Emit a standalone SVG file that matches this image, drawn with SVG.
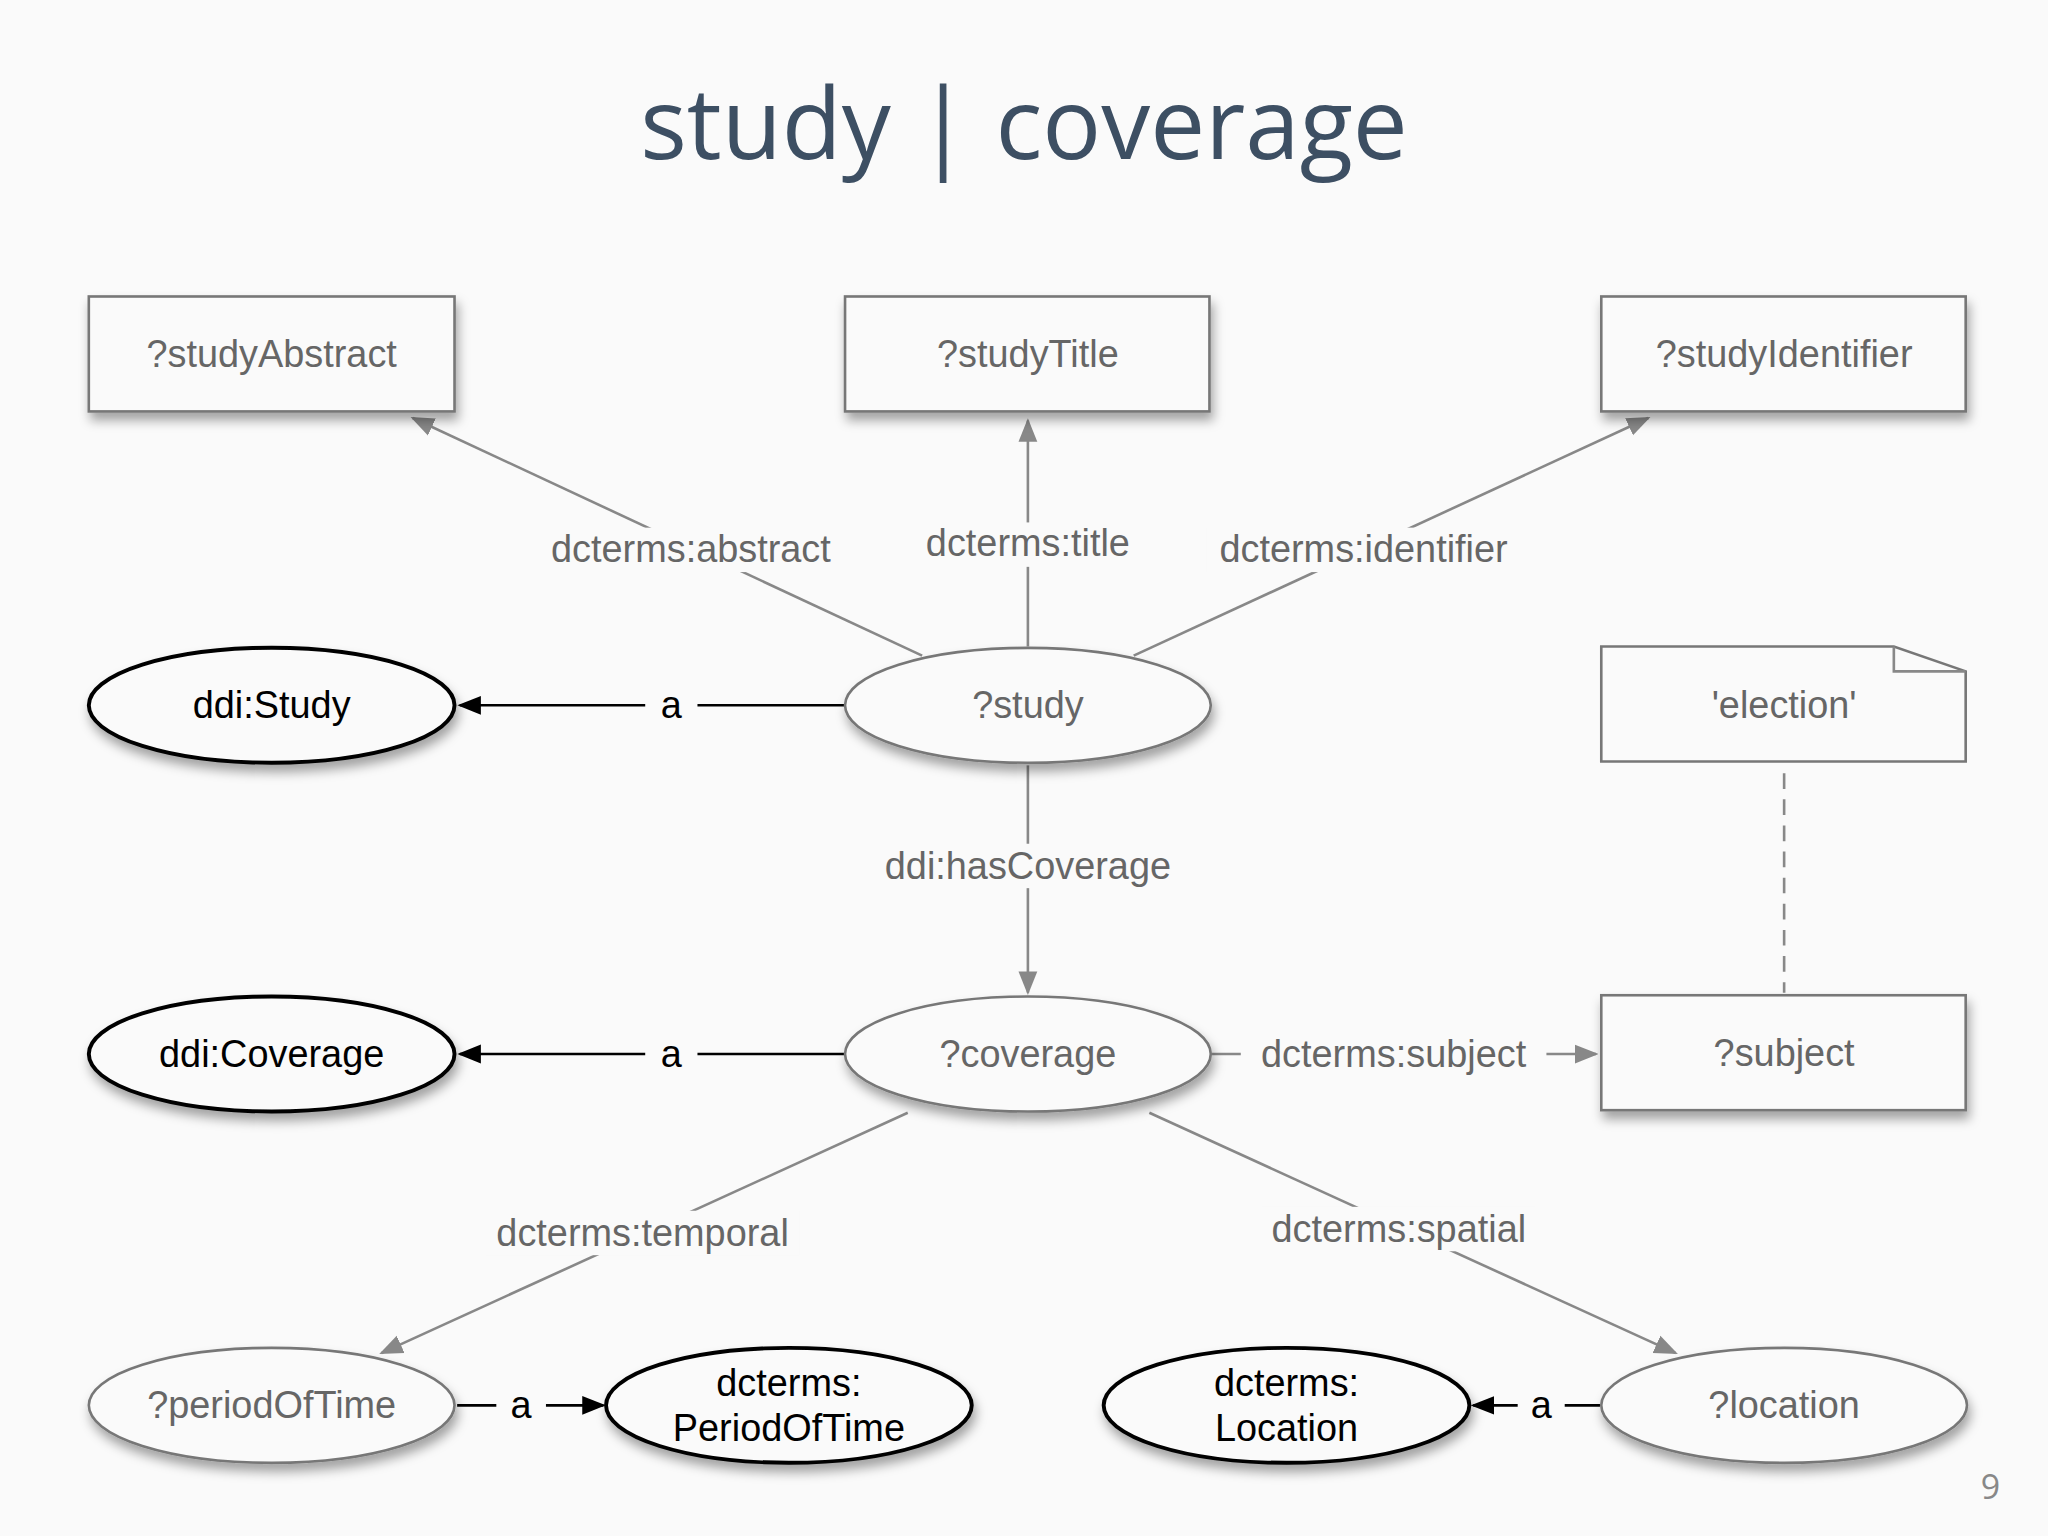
<svg xmlns="http://www.w3.org/2000/svg" width="2048" height="1536" viewBox="0 0 2048 1536">
<defs>
<style>
.t{font-family:"Liberation Sans",Arial,sans-serif;font-size:29px;text-anchor:middle;dominant-baseline:central}
.g{fill:#666}.k{fill:#000}
.gn{fill:#fafafa;stroke:#777;stroke-width:2}
.kn{fill:#fafafa;stroke:#000;stroke-width:3}
.ge{stroke:#888;stroke-width:2;fill:none}
.ke{stroke:#000;stroke-width:2;fill:none}
.lb{fill:#fafafa}
</style>
<marker id="ag" viewBox="0 0 10 10" refX="9" refY="5" markerWidth="9" markerHeight="9" orient="auto"><path d="M0,1 L10,5 L0,9 z" fill="#888"/></marker>
<marker id="ak" viewBox="0 0 10 10" refX="9" refY="5" markerWidth="9" markerHeight="9" orient="auto"><path d="M0,1 L10,5 L0,9 z" fill="#000"/></marker>
<filter id="sh" x="-10%" y="-10%" width="130%" height="150%"><feDropShadow dx="2" dy="6" stdDeviation="4" flood-color="#000" flood-opacity="0.35"/></filter>
</defs>
<rect width="2048" height="1536" fill="#fafafa"/>
<g transform="scale(1.3061)">
<text x="784" y="122" font-family="Open Sans,Liberation Sans,sans-serif" font-size="75" fill="#3d4f63" text-anchor="middle">study | coverage</text>
<text x="1524" y="1148" font-family="Open Sans,sans-serif" font-size="26" fill="#888" text-anchor="middle">9</text>
<g id="connectors">
<line class="ge" x1="706" y1="502" x2="316" y2="320" marker-end="url(#ag)"/>
<rect class="lb" x="414" y="404" width="230" height="34"/><text class="t g" x="529" y="420">dcterms:abstract</text>
<line class="ge" x1="787" y1="495" x2="787" y2="322" marker-end="url(#ag)"/>
<rect class="lb" x="700" y="400" width="174" height="34"/><text class="t g" x="787" y="416">dcterms:title</text>
<line class="ge" x1="868" y1="502" x2="1262" y2="320" marker-end="url(#ag)"/>
<rect class="lb" x="924" y="404" width="240" height="34"/><text class="t g" x="1044" y="420">dcterms:identifier</text>
<line class="ke" x1="647" y1="540" x2="352" y2="540" marker-end="url(#ak)"/>
<rect class="lb" x="494" y="522" width="40" height="36"/><text class="t k" x="514" y="540">a</text>
<line class="ge" x1="787" y1="586" x2="787" y2="760" marker-end="url(#ag)"/>
<rect class="lb" x="668" y="646" width="238" height="34"/><text class="t g" x="787" y="663">ddi:hasCoverage</text>
<line class="ke" x1="647" y1="807" x2="352" y2="807" marker-end="url(#ak)"/>
<rect class="lb" x="494" y="789" width="40" height="36"/><text class="t k" x="514" y="807">a</text>
<line class="ge" x1="928" y1="807" x2="1222" y2="807" marker-end="url(#ag)"/>
<rect class="lb" x="950" y="790" width="234" height="34"/><text class="t g" x="1067" y="807">dcterms:subject</text>
<line x1="1366" y1="592" x2="1366" y2="760" stroke="#888" stroke-width="2" stroke-dasharray="12,8"/>
<line class="ge" x1="695" y1="852" x2="292" y2="1036" marker-end="url(#ag)"/>
<rect class="lb" x="372" y="927" width="240" height="34"/><text class="t g" x="492" y="944">dcterms:temporal</text>
<line class="ge" x1="880" y1="852" x2="1283" y2="1036" marker-end="url(#ag)"/>
<rect class="lb" x="966" y="924" width="210" height="34"/><text class="t g" x="1071" y="941">dcterms:spatial</text>
<line class="ke" x1="350" y1="1076" x2="462" y2="1076" marker-end="url(#ak)"/>
<rect class="lb" x="380" y="1058" width="38" height="36"/><text class="t k" x="399" y="1076">a</text>
<line class="ke" x1="1225" y1="1076" x2="1128" y2="1076" marker-end="url(#ak)"/>
<rect class="lb" x="1162" y="1058" width="36" height="36"/><text class="t k" x="1180" y="1076">a</text>
</g>
<g id="studyAbstract"><rect class="gn" filter="url(#sh)" x="68" y="227" width="280" height="88"/><text class="t g" x="208" y="271">?studyAbstract</text></g>
<g id="studyTitle"><rect class="gn" filter="url(#sh)" x="647" y="227" width="279" height="88"/><text class="t g" x="787" y="271">?studyTitle</text></g>
<g id="studyIdentifier"><rect class="gn" filter="url(#sh)" x="1226" y="227" width="279" height="88"/><text class="t g" x="1366" y="271">?studyIdentifier</text></g>
<g id="ddiStudy"><ellipse class="kn" filter="url(#sh)" cx="208" cy="540" rx="140" ry="44"/><text class="t k" x="208" y="540">ddi:Study</text></g>
<g id="study"><ellipse class="gn" filter="url(#sh)" cx="787" cy="540" rx="140" ry="44"/><text class="t g" x="787" y="540">?study</text></g>
<g id="election"><path class="gn" d="M1226,495 H1450 L1505,514 V583 H1226 Z"/><path class="ge" d="M1450,495 V514 H1505"/><text class="t g" x="1366" y="540">'election'</text></g>
<g id="ddiCoverage"><ellipse class="kn" filter="url(#sh)" cx="208" cy="807" rx="140" ry="44"/><text class="t k" x="208" y="807">ddi:Coverage</text></g>
<g id="coverage"><ellipse class="gn" filter="url(#sh)" cx="787" cy="807" rx="140" ry="44"/><text class="t g" x="787" y="807">?coverage</text></g>
<g id="subject"><rect class="gn" filter="url(#sh)" x="1226" y="762" width="279" height="88"/><text class="t g" x="1366" y="806">?subject</text></g>
<g id="periodOfTime"><ellipse class="gn" filter="url(#sh)" cx="208" cy="1076" rx="140" ry="44"/><text class="t g" x="208" y="1076">?periodOfTime</text></g>
<g id="PeriodOfTime"><ellipse class="kn" filter="url(#sh)" cx="604" cy="1076" rx="140" ry="44"/><text class="t k" x="604" y="1059">dcterms:</text><text class="t k" x="604" y="1093">PeriodOfTime</text></g>
<g id="Location"><ellipse class="kn" filter="url(#sh)" cx="985" cy="1076" rx="140" ry="44"/><text class="t k" x="985" y="1059">dcterms:</text><text class="t k" x="985" y="1093">Location</text></g>
<g id="location"><ellipse class="gn" filter="url(#sh)" cx="1366" cy="1076" rx="140" ry="44"/><text class="t g" x="1366" y="1076">?location</text></g>
</g>
</svg>
